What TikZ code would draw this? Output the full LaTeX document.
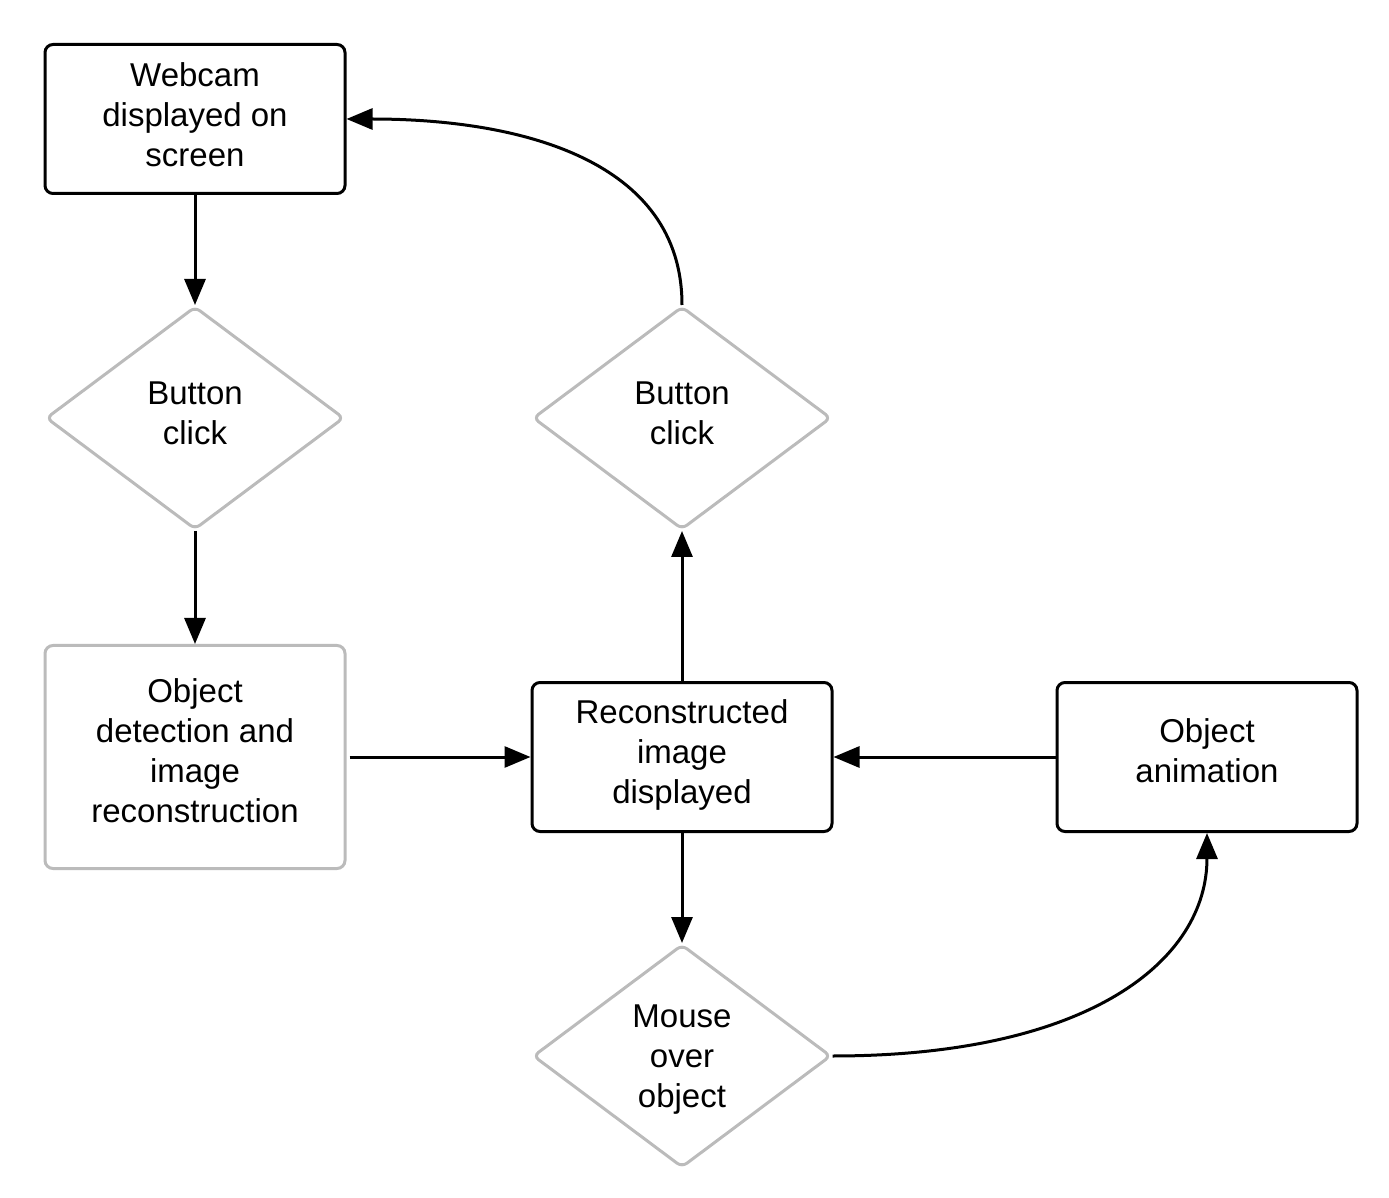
\documentclass[tikz,border=0pt]{standalone}
\usepackage{fontspec}
\setmainfont{Liberation Sans}
\usetikzlibrary{shapes.geometric,arrows.meta}
\definecolor{graybd}{HTML}{BBBBBB}
\newcommand\nodetext[2]{\raisebox{#1}[\height][\depth]{\begin{tabular}{@{}c@{}}#2\end{tabular}}}
\begin{document}
\begin{tikzpicture}[x=0.5pt,y=-0.5pt,
  every node/.style={font=\fontsize{16.5}{20}\selectfont, align=center},
  blackbox/.style={draw=black, line width=1.5pt, rounded corners=4pt, minimum width=150pt, minimum height=74.5pt, inner sep=0pt},
  graybox/.style={draw=graybd, line width=1.5pt, rounded corners=4pt, minimum width=150pt, minimum height=111.5pt, inner sep=0pt},
  decision/.style={diamond, draw=graybd, line width=1.5pt, rounded corners=3pt, minimum width=149pt, minimum height=111.5pt, aspect=1.33, inner sep=0pt},
  conn/.style={line width=1.5pt, -{Triangle[length=13pt,width=10.5pt]}}]
\useasboundingbox (0,0) rectangle (1389,1198);
\node[blackbox] (webcam) at (195,119) {\nodetext{0pt}{Webcam\\displayed on\\screen}};
\node[decision] (click1) at (195,418) {\nodetext{0.5pt}{Button\\click}};
\node[graybox] (detect) at (195,757) {\nodetext{1.5pt}{Object\\detection and\\image\\reconstruction}};
\node[blackbox] (recon) at (682,757) {\nodetext{1pt}{Reconstructed\\image\\displayed}};
\node[blackbox] (anim) at (1207,757) {\nodetext{1.5pt}{Object\\animation}};
\node[decision] (click2) at (682,418) {\nodetext{0.5pt}{Button\\click}};
\node[decision] (mouse) at (682,1056) {\nodetext{-1.5pt}{Mouse\\over\\object}};
\draw[conn] (webcam.south) -- (click1.north);
\draw[conn] (click1.south) -- (detect.north);
\draw[conn] ([xshift=1.5pt]detect.east) -- (recon.west);
\draw[conn] (recon.north) -- (click2.south);
\draw[conn] (click2.north) .. controls (682,160) and (520,119) .. (webcam.east);
\draw[conn] (recon.south) -- (mouse.north);
\draw[conn] (anim.west) -- (recon.east);
\draw[conn] (mouse.east) .. controls (1090,1056) and (1207,960) .. (anim.south);
\end{tikzpicture}
\end{document}
